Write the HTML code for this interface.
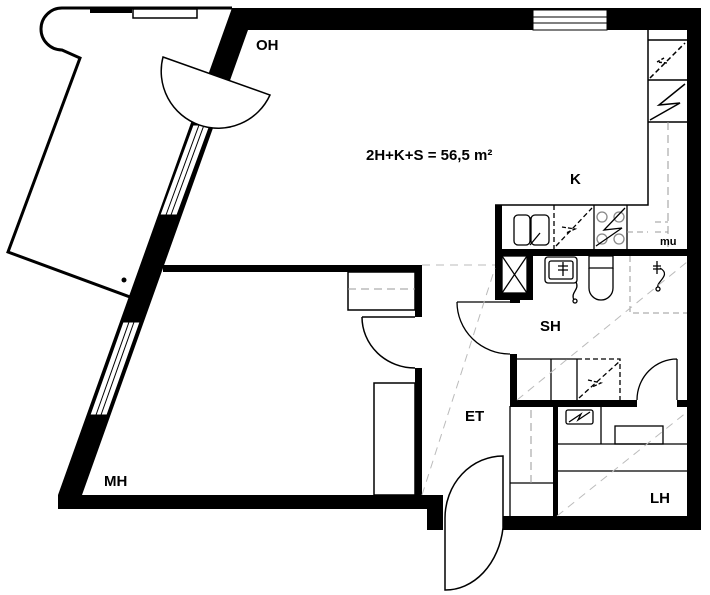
<!DOCTYPE html>
<html><head><meta charset="utf-8"><style>
html,body{margin:0;padding:0;background:#fff;}
svg{display:block;}
text{font-family:"Liberation Sans",sans-serif;font-weight:bold;fill:#000;}
</style></head><body>
<svg width="710" height="595" viewBox="0 0 710 595" xmlns="http://www.w3.org/2000/svg">
<g fill="none" stroke="#000">
<path d="M232,8 L62,8 A21,21 0 0 0 62,50 L80,58 L8,252 L130,297" stroke-width="3"/>
<rect x="133" y="9" width="64" height="9" stroke-width="1.5"/>
</g>
<rect x="90" y="7" width="42" height="6" fill="#000"/>
<circle cx="124" cy="280" r="2.5" fill="#000"/>

<polygon points="232,8 248,8 248,30 82,495 58,495" fill="#000"/>
<polygon points="193,125 210,125 177,215 160,215" fill="#fff" stroke="#000" stroke-width="1"/>
<line x1="199" y1="125" x2="166" y2="215" stroke="#000"/>
<line x1="204" y1="125" x2="171" y2="215" stroke="#000"/>
<polygon points="123,322 140,322 107,415 90,415" fill="#fff" stroke="#000" stroke-width="1"/>
<line x1="129" y1="322" x2="96" y2="415" stroke="#000"/>
<line x1="134" y1="322" x2="101" y2="415" stroke="#000"/>
<path d="M163,57 L270,95 A57,57 0 0 1 163,57 Z" fill="#fff" stroke="#000" stroke-width="1.5"/>

<rect x="235" y="8" width="466" height="22" fill="#000"/>
<rect x="687" y="8" width="14" height="522" fill="#000"/>
<rect x="533" y="10" width="74" height="20" fill="#fff" stroke="#000" stroke-width="1"/>
<line x1="533" y1="17" x2="607" y2="17" stroke="#000"/>
<line x1="533" y1="23" x2="607" y2="23" stroke="#000"/>

<rect x="163" y="265" width="259" height="7" fill="#000"/>
<rect x="415" y="265" width="7" height="52" fill="#000"/>
<rect x="415" y="368" width="7" height="130" fill="#000"/>
<rect x="58" y="495" width="384" height="14" fill="#000"/>
<rect x="427" y="495" width="16" height="35" fill="#000"/>
<g fill="none" stroke="#000" stroke-width="1.5">
<rect x="348" y="272" width="67" height="38"/>
<line x1="362" y1="317" x2="415" y2="317"/>
<path d="M362,317 A53,51 0 0 0 415,368"/>
<rect x="374" y="383" width="41" height="112"/>
</g>
<line x1="348" y1="289" x2="415" y2="289" stroke="#999" stroke-dasharray="8,5"/>

<g fill="none" stroke="#000" stroke-width="1.5">
<path d="M648,30 L648,205 L495,205"/>
<line x1="648" y1="40" x2="687" y2="40"/>
<line x1="648" y1="80" x2="687" y2="80"/>
<line x1="648" y1="122" x2="687" y2="122"/>
<line x1="650" y1="78" x2="685" y2="43" stroke-dasharray="5,3"/>
<polyline points="664,58 657,62 667,63" stroke-dasharray="3,2"/>
<polyline points="650,120 680,103 659,105 685,84"/>
</g>
<line x1="668" y1="122" x2="668" y2="249" stroke="#999" stroke-dasharray="8,5"/>

<rect x="495" y="205" width="7" height="93" fill="#000"/>
<rect x="495" y="249" width="192" height="7" fill="#000"/>
<g fill="none" stroke="#000" stroke-width="1.3">
<rect x="514" y="215" width="16" height="30" rx="4"/>
<rect x="531" y="215" width="18" height="30" rx="4"/>
<line x1="554" y1="205" x2="554" y2="249" stroke-dasharray="5,3"/>
<line x1="594" y1="205" x2="594" y2="249"/>
<line x1="627" y1="205" x2="627" y2="249"/>
<line x1="556" y1="246" x2="592" y2="208" stroke-dasharray="5,3"/>
<polyline points="562,227 575,229 566,233" stroke-dasharray="4,2"/>
<circle cx="602" cy="217" r="5" stroke="#888"/><circle cx="619" cy="217" r="5" stroke="#888"/>
<circle cx="602" cy="239" r="5" stroke="#888"/><circle cx="619" cy="239" r="5" stroke="#888"/>
<polyline points="596,246 622,228 604,230 625,208"/>
<line x1="530" y1="245" x2="540" y2="233"/>
</g>
<path d="M627,232 L648,232 M655,232 L668,232 M655,222 L668,222" stroke="#999" stroke-dasharray="6,4"/>

<rect x="495" y="256" width="7" height="44" fill="#000"/>
<rect x="495" y="293" width="38" height="7" fill="#000"/>
<rect x="527" y="256" width="6" height="44" fill="#000"/>
<rect x="510" y="298" width="10" height="5" fill="#000"/>
<g fill="none" stroke="#000" stroke-width="1.3">
<rect x="502" y="256" width="25" height="37"/>
<line x1="502" y1="256" x2="527" y2="293"/><line x1="527" y1="256" x2="502" y2="293"/>
<rect x="545" y="257" width="32" height="26" rx="3"/>
<rect x="549" y="261" width="24" height="18" rx="2"/>
<path d="M558,266 L568,266 M558,270 L568,270 M563,262 L563,276"/>
<path d="M576,282 C580,290 570,292 574,300"/>
<circle cx="575" cy="301" r="2"/>
<path d="M589,256 L613,256 L613,268 L589,268 Z"/>
<path d="M589,268 L589,288 A12,12 0 0 0 613,288 L613,268"/>
<path d="M653,266 L661,266 M653,269 L661,269 M657,261 L657,274"/>
<path d="M660,268 C672,275 656,282 658,287"/><circle cx="658" cy="289" r="2"/>
<path d="M457,302 L510,302 M457,302 A53,52 0 0 0 510,354"/>
</g>
<path d="M630,256 L630,313 L687,313" fill="none" stroke="#999" stroke-dasharray="6,4"/>
<rect x="510" y="354" width="7" height="53" fill="#000"/>
<rect x="510" y="400" width="127" height="7" fill="#000"/>
<rect x="677" y="400" width="10" height="7" fill="#000"/>
<g fill="none" stroke="#000" stroke-width="1.3">
<line x1="551" y1="359" x2="551" y2="400"/>
<line x1="577" y1="359" x2="577" y2="400"/>
<line x1="517" y1="359" x2="577" y2="359"/>
<path d="M577,359 L620,359 L620,400 M579,398 L620,361" stroke-dasharray="5,3"/>
<polyline points="588,380 601,383 592,387" stroke-dasharray="4,2"/>
<path d="M677,359 L677,400 M637,400 A40,41 0 0 1 677,359"/>
</g>
<text x="540" y="331" font-size="15">SH</text>

<rect x="553" y="406" width="5" height="112" fill="#000"/>
<rect x="502" y="516" width="199" height="14" fill="#000"/>
<g fill="none" stroke="#000" stroke-width="1.3">
<line x1="510" y1="406" x2="510" y2="516"/>
<line x1="510" y1="483" x2="553" y2="483"/>
<line x1="557" y1="444" x2="687" y2="444"/>
<line x1="557" y1="471" x2="687" y2="471"/>
<line x1="601" y1="406" x2="601" y2="444"/>
<rect x="615" y="426" width="48" height="18"/>
<rect x="566" y="410" width="27" height="14" rx="2"/>
<polyline points="569,422 581,414 578,420 590,412"/>
</g>
<line x1="531" y1="410" x2="531" y2="483" stroke="#999" stroke-dasharray="8,5"/>

<g stroke="#bbb" stroke-dasharray="8,6" fill="none" stroke-width="1">
<line x1="422" y1="265" x2="495" y2="265"/>
<line x1="422" y1="495" x2="495" y2="268"/>
<line x1="517" y1="400" x2="687" y2="262"/>
<line x1="557" y1="516" x2="687" y2="412"/>
</g>

<path d="M503,456 L503,528 A58,72 0 0 1 445,590 L445,518 A58,62 0 0 1 503,456 Z" fill="#fff" stroke="#000" stroke-width="1.5"/>
<rect x="420" y="495" width="23" height="13" fill="#000"/>
<rect x="427" y="495" width="16" height="35" fill="#000"/>

<text x="256" y="50" font-size="15">OH</text>
<text x="366" y="160" font-size="15">2H+K+S = 56,5 m²</text>
<text x="570" y="184" font-size="15">K</text>
<text x="660" y="245" font-size="11">mu</text>
<text x="465" y="421" font-size="15">ET</text>
<text x="104" y="486" font-size="15">MH</text>
<text x="650" y="503" font-size="15">LH</text>
</svg>
</body></html>
